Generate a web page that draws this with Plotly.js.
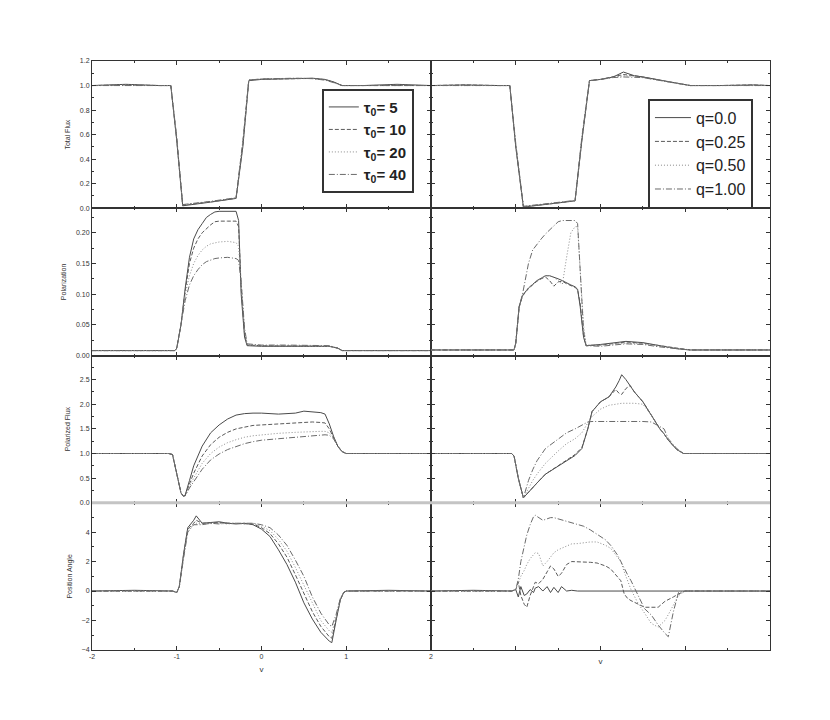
<!DOCTYPE html>
<html>
<head>
<meta charset="utf-8">
<script src="https://cdn.plot.ly/plotly-3.0.1.min.js"></script>
<style>html,body{margin:0;padding:0;background:#fff;}#chart{width:830px;height:720px;}</style>
</head>
<body>
<div id="chart"></div>
<script>
// ---------- DATA ----------
const tauNames = ['<b>τ<sub>0</sub>= 5</b>', '<b>τ<sub>0</sub>= 10</b>', '<b>τ<sub>0</sub>= 20</b>', '<b>τ<sub>0</sub>= 40</b>'];
const qNames = ['q=0.0', 'q=0.25', 'q=0.50', 'q=1.00'];
const xTickLabels = ['-2', '-1', '0', '1', '2'];
const yTitles = ['Total Flux', 'Polarization', 'Polarized Flux', 'Position Angle'];

// Total flux, left (tau)
const xTotL = [-2,-1.6,-1.2,-1.07,-1.0,-0.93,-0.6,-0.3,-0.22,-0.15,0,0.2,0.4,0.6,0.75,0.85,0.95,1.2,1.6,2];
const totL_t5  = [1,1.01,1,1,0.55,0.02,0.05,0.08,0.5,1.04,1.05,1.055,1.06,1.06,1.05,1.03,1.0,1.0,1.01,1.0];
const totL_t10 = [1,1.005,1,1,0.56,0.025,0.052,0.082,0.52,1.045,1.052,1.056,1.058,1.058,1.048,1.028,1.0,1.0,1.005,1.0];
const totL_t20 = [1,1.005,1,1,0.57,0.028,0.054,0.084,0.53,1.045,1.053,1.057,1.059,1.057,1.046,1.026,1.0,1.0,1.005,1.0];
const totL_t40 = [1,1.0,1,1,0.58,0.03,0.056,0.086,0.55,1.045,1.054,1.058,1.06,1.056,1.044,1.024,1.0,1.0,1.0,1.0];

// Total flux, right (q)
const xTotR = [-2,-1.6,-1.2,-1.07,-1.0,-0.91,-0.6,-0.3,-0.22,-0.13,0,0.15,0.27,0.4,0.5,0.8,1.06,1.4,1.8,2];
const totR_q0   = [1,1.005,1,1,0.5,0.01,0.035,0.06,0.55,1.04,1.05,1.07,1.11,1.08,1.07,1.03,1.0,1.0,1.005,1];
const totR_q25  = [1,1.005,1,1,0.51,0.012,0.036,0.061,0.56,1.04,1.05,1.07,1.09,1.08,1.07,1.03,1.0,1.0,1.005,1];
const totR_q50  = [1,1.0,1,1,0.52,0.014,0.038,0.062,0.57,1.04,1.05,1.07,1.08,1.075,1.065,1.03,1.0,1.0,1.0,1];
const totR_q100 = [1,1.0,1,1,0.53,0.016,0.04,0.064,0.58,1.04,1.05,1.065,1.07,1.07,1.065,1.03,1.0,1.0,1.0,1];

// Polarization, left
const xPolL = [-2,-1.5,-1.02,-1.0,-0.95,-0.9,-0.85,-0.8,-0.75,-0.7,-0.65,-0.6,-0.55,-0.5,-0.4,-0.3,-0.27,-0.24,-0.2,-0.17,0,0.3,0.6,0.8,0.9,0.95,1.2,1.6,2];
const polL_t5  = [0.008,0.008,0.008,0.012,0.05,0.11,0.16,0.19,0.205,0.215,0.225,0.23,0.234,0.235,0.235,0.235,0.22,0.10,0.03,0.016,0.015,0.015,0.015,0.015,0.012,0.008,0.008,0.008,0.008];
const polL_t10 = [0.008,0.008,0.008,0.012,0.05,0.105,0.15,0.175,0.19,0.20,0.207,0.213,0.218,0.219,0.219,0.219,0.21,0.11,0.035,0.017,0.016,0.016,0.016,0.015,0.012,0.008,0.008,0.008,0.008];
const polL_t20 = [0.008,0.008,0.008,0.012,0.05,0.10,0.13,0.15,0.163,0.172,0.178,0.182,0.184,0.185,0.186,0.184,0.178,0.12,0.04,0.018,0.016,0.016,0.016,0.015,0.012,0.008,0.008,0.008,0.008];
const polL_t40 = [0.008,0.008,0.008,0.012,0.05,0.09,0.115,0.13,0.14,0.148,0.153,0.156,0.158,0.159,0.16,0.158,0.155,0.12,0.045,0.019,0.017,0.017,0.017,0.016,0.012,0.008,0.008,0.008,0.008];

// Polarization, right
const xPolR = [-2,-1.5,-1.02,-1.0,-0.96,-0.92,-0.85,-0.8,-0.75,-0.7,-0.65,-0.6,-0.55,-0.5,-0.45,-0.4,-0.35,-0.3,-0.27,-0.24,-0.2,-0.17,0,0.3,0.5,0.7,0.9,1.06,1.5,2];
const polR_q0   = [0.009,0.009,0.009,0.02,0.08,0.098,0.11,0.116,0.122,0.126,0.13,0.13,0.128,0.125,0.122,0.118,0.115,0.112,0.108,0.08,0.03,0.016,0.018,0.023,0.021,0.016,0.011,0.009,0.009,0.009];
const polR_q25  = [0.009,0.009,0.009,0.02,0.078,0.097,0.109,0.115,0.121,0.125,0.128,0.122,0.113,0.12,0.121,0.117,0.114,0.111,0.107,0.085,0.032,0.016,0.017,0.022,0.02,0.016,0.011,0.009,0.009,0.009];
const polR_q50  = [0.009,0.009,0.009,0.02,0.079,0.098,0.11,0.116,0.122,0.126,0.13,0.13,0.127,0.122,0.116,0.16,0.20,0.21,0.21,0.14,0.05,0.017,0.017,0.02,0.019,0.015,0.011,0.009,0.009,0.009];
const polR_q100 = [0.009,0.009,0.009,0.02,0.08,0.10,0.15,0.172,0.182,0.19,0.198,0.205,0.212,0.218,0.22,0.22,0.22,0.22,0.215,0.13,0.04,0.016,0.015,0.019,0.018,0.014,0.011,0.009,0.009,0.009];

// Polarized flux, left
const xPfL = [-2,-1.5,-1.1,-1.05,-1.0,-0.95,-0.92,-0.9,-0.85,-0.8,-0.7,-0.6,-0.5,-0.4,-0.3,-0.2,-0.1,0,0.2,0.4,0.5,0.6,0.7,0.75,0.8,0.85,0.9,0.95,1.0,1.05,1.5,2];
const pfL_t5  = [1,1,1,0.98,0.6,0.2,0.13,0.16,0.45,0.75,1.15,1.42,1.58,1.7,1.78,1.81,1.82,1.82,1.80,1.82,1.86,1.84,1.83,1.8,1.6,1.35,1.15,1.04,1.0,1.0,1,1];
const pfL_t10 = [1,1,1,0.98,0.6,0.2,0.13,0.15,0.38,0.6,0.95,1.18,1.33,1.43,1.5,1.54,1.57,1.58,1.6,1.62,1.63,1.64,1.63,1.62,1.5,1.33,1.15,1.04,1.0,1.0,1,1];
const pfL_t20 = [1,1,1,0.98,0.6,0.2,0.13,0.14,0.33,0.5,0.8,1.0,1.13,1.22,1.28,1.33,1.36,1.38,1.41,1.43,1.44,1.45,1.45,1.45,1.42,1.32,1.15,1.04,1.0,1.0,1,1];
const pfL_t40 = [1,1,1,0.98,0.6,0.2,0.13,0.14,0.3,0.43,0.68,0.87,0.99,1.08,1.14,1.2,1.24,1.27,1.3,1.33,1.35,1.37,1.38,1.38,1.37,1.3,1.14,1.04,1.0,1.0,1,1];

// Polarized flux, right
const xPfR = [-2,-1.5,-1.05,-1.02,-0.97,-0.91,-0.85,-0.8,-0.75,-0.65,-0.5,-0.4,-0.3,-0.22,-0.15,-0.1,0,0.1,0.18,0.22,0.25,0.3,0.35,0.4,0.5,0.6,0.7,0.75,0.8,0.9,0.98,1.05,1.5,2];
const pfR_q0   = [1,1,1,0.95,0.5,0.1,0.22,0.31,0.4,0.58,0.75,0.85,0.96,1.1,1.5,1.85,2.05,2.15,2.35,2.48,2.6,2.5,2.38,2.25,2.05,1.78,1.5,1.4,1.27,1.08,1.0,1,1,1];
const pfR_q25  = [1,1,1,0.95,0.5,0.1,0.22,0.31,0.4,0.58,0.75,0.86,0.98,1.12,1.5,1.85,2.05,2.15,2.3,2.22,2.2,2.32,2.38,2.25,2.05,1.78,1.5,1.4,1.27,1.08,1.0,1,1,1];
const pfR_q50  = [1,1,1,0.95,0.5,0.1,0.3,0.45,0.58,0.8,1.05,1.2,1.3,1.42,1.62,1.75,1.9,1.98,2.0,2.02,2.02,2.02,2.02,2.02,2.0,1.78,1.5,1.4,1.27,1.08,1.0,1,1,1];
const pfR_q100 = [1,1,1,0.95,0.5,0.1,0.45,0.67,0.85,1.1,1.3,1.42,1.5,1.58,1.64,1.65,1.65,1.65,1.66,1.65,1.66,1.65,1.65,1.65,1.65,1.64,1.55,1.5,1.3,1.1,1.0,1,1,1];

// Position angle, left
const xPaL = [-2,-1.5,-1.05,-1.0,-0.97,-0.92,-0.87,-0.8,-0.77,-0.7,-0.6,-0.5,-0.4,-0.3,-0.2,-0.1,0,0.1,0.2,0.3,0.4,0.5,0.6,0.7,0.8,0.83,0.88,0.93,0.97,1.0,1.5,2];
const paL_t5  = [0,0.05,0,-0.1,0.3,2.5,4.3,4.8,5.1,4.6,4.65,4.7,4.6,4.55,4.6,4.5,4.2,3.7,2.8,1.8,0.6,-0.8,-1.9,-2.8,-3.4,-3.5,-2.0,-0.6,-0.1,0,0.05,0];
const paL_t10 = [0,0,0,-0.1,0.3,2.4,4.2,4.6,4.8,4.6,4.65,4.65,4.6,4.6,4.6,4.55,4.3,3.9,3.2,2.3,1.1,-0.2,-1.4,-2.4,-3.1,-3.2,-1.9,-0.6,-0.1,0,0,0];
const paL_t20 = [0,0,0,-0.1,0.3,2.3,4.1,4.5,4.6,4.55,4.6,4.6,4.55,4.6,4.55,4.6,4.4,4.1,3.5,2.7,1.6,0.4,-0.9,-2.0,-2.7,-2.8,-1.8,-0.5,-0.1,0,0,0];
const paL_t40 = [0,0,0,-0.1,0.3,2.2,4.0,4.5,4.5,4.5,4.6,4.55,4.6,4.6,4.6,4.6,4.5,4.3,3.8,3.1,2.1,1.0,-0.4,-1.5,-2.3,-2.4,-1.6,-0.5,-0.1,0,0,0];

// Position angle, right
const xPaR = [-2,-1.5,-1.05,-1.0,-0.97,-0.94,-0.9,-0.87,-0.83,-0.79,-0.77,-0.73,-0.68,-0.63,-0.59,-0.55,-0.5,-0.46,-0.4,-0.34,-0.27,-0.2,-0.12,-0.04,0.06,0.12,0.2,0.24,0.28,0.32,0.36,0.44,0.52,0.6,0.68,0.76,0.8,0.86,0.92,1.0,1.5,2];
const paR_q0   = [0,0.05,0,0.1,-0.4,0.3,-0.3,-0.2,0.1,-0.1,0.2,0.3,0.0,0.3,-0.1,0.25,-0.1,0.3,0.0,0.05,0,0,0.05,0,0,0.05,0,0,0,0,0.05,0,0,0,0.05,0,0,0,0,0,0.05,0];
const paR_q25  = [0,0,0,0.1,0.6,-0.3,-0.9,-1.1,-0.3,0.3,0.6,0.5,0.8,1.3,1.7,1.5,1.0,1.2,1.8,2.0,2.0,2.0,1.95,1.9,1.7,1.5,1.0,0.7,-0.2,-0.5,-0.65,-0.9,-1.1,-1.1,-1.1,-0.7,-0.6,-0.4,-0.2,0,0,0];
const paR_q50  = [0,0,0,0.1,0.5,1.0,1.4,1.8,2.2,2.5,2.6,2.55,1.7,2.0,2.3,2.6,2.8,2.9,3.05,3.2,3.22,3.28,3.33,3.33,3.1,2.9,2.3,2.0,1.3,0.7,0.1,-0.8,-1.5,-2.2,-2.45,-2.0,-1.6,-0.9,-0.3,0,0,0];
const paR_q100 = [0,0,0,0.1,0.8,2.0,3.0,3.8,4.5,5.05,5.14,5.0,4.8,4.9,4.98,4.98,4.9,4.8,4.7,4.6,4.5,4.4,4.15,3.85,3.47,3.1,2.45,2.0,1.5,1.1,0.7,-0.27,-1.2,-1.63,-2.3,-2.87,-3.1,-1.4,-0.1,0,0,0];

// ---------- BUILD ----------
const panels = [
  {x: xTotL, ys: [totL_t5, totL_t10, totL_t20, totL_t40], names: tauNames, legend: 'legend'},
  {x: xTotR, ys: [totR_q0, totR_q25, totR_q50, totR_q100], names: qNames, legend: 'legend2'},
  {x: xPolL, ys: [polL_t5, polL_t10, polL_t20, polL_t40], names: tauNames},
  {x: xPolR, ys: [polR_q0, polR_q25, polR_q50, polR_q100], names: qNames},
  {x: xPfL, ys: [pfL_t5, pfL_t10, pfL_t20, pfL_t40], names: tauNames},
  {x: xPfR, ys: [pfR_q0, pfR_q25, pfR_q50, pfR_q100], names: qNames},
  {x: xPaL, ys: [paL_t5, paL_t10, paL_t20, paL_t40], names: tauNames},
  {x: xPaR, ys: [paR_q0, paR_q25, paR_q50, paR_q100], names: qNames}
];
const dashes = ['solid', '4px,2px', '1px,2px', '6px,2px,1px,2px'];
const colors = ['#4a4a4a', '#5a5a5a', '#8a8a8a', '#6a6a6a'];

const yRanges = [[0, 1.2001], [0, 0.24], [0, 2.99], [-4, 5.99]];
const yDticks = [0.2, 0.05, 0.5, 2];
const yMinor = [0.1, 0.025, 0.25, 1];
const yFormats = ['.1f', '.2f', '.1f', 'd'];

const traces = [];
const layout = {
  width: 830, height: 720,
  margin: {l: 92, r: 60, t: 61, b: 70},
  paper_bgcolor: '#fff', plot_bgcolor: '#fff',
  font: {family: 'Liberation Sans, Arial, sans-serif', color: '#333', size: 7},
  showlegend: true,
  legend: {
    x: 0.339, y: 0.953, xanchor: 'left', yanchor: 'top',
    bgcolor: '#fff', bordercolor: '#333', borderwidth: 2,
    font: {family: 'Liberation Sans, Arial, sans-serif', size: 15, color: '#222'},
    itemwidth: 30, tracegroupgap: 0
  },
  legend2: {
    x: 0.82, y: 0.936, xanchor: 'left', yanchor: 'top',
    bgcolor: '#fff', bordercolor: '#333', borderwidth: 2,
    font: {family: 'Liberation Sans, Arial, sans-serif', size: 16, color: '#222'},
    itemwidth: 36, tracegroupgap: 0
  },
  shapes: [
    {type: 'line', xref: 'paper', yref: 'paper', x0: 0, x1: 1, y0: 0.25, y1: 0.25, layer: 'above',
     line: {color: '#c4c4c4', width: 3}}
  ]
};

panels.forEach((p, i) => {
  const row = Math.floor(i / 2), col = i % 2;
  const ax = i === 0 ? '' : String(i + 1);
  p.ys.forEach((y, k) => {
    const t = {
      type: 'scatter', mode: 'lines', x: p.x, y: y, name: p.names[k],
      xaxis: 'x' + ax, yaxis: 'y' + ax,
      line: {color: colors[k], width: 1, dash: dashes[k]},
      showlegend: !!p.legend, hoverinfo: 'skip'
    };
    if (p.legend) t.legend = p.legend;
    traces.push(t);
  });
  const xDom = col === 0 ? [0, 0.5] : [0.5, 1];
  const yDom = [[0.75, 1], [0.5, 0.75], [0.25, 0.5], [0, 0.25]][row];
  const common = {
    showline: true, linecolor: '#333', linewidth: 1, mirror: 'ticks',
    ticks: 'inside', ticklen: 4, tickcolor: '#333', tickwidth: 1,
    showgrid: false, zeroline: false, fixedrange: true,
    tickfont: {family: 'Liberation Sans, Arial, sans-serif', size: 7, color: '#333'}
  };
  layout['xaxis' + ax] = Object.assign({}, common, {
    domain: xDom, anchor: 'y' + ax, range: [-2, 2],
    tick0: 0, dtick: 1,
    minor: {dtick: 0.5, ticks: 'inside', ticklen: 2, tickcolor: '#333'},
    tickmode: row === 3 && col === 0 ? 'array' : 'linear',
    tickvals: row === 3 && col === 0 ? [-2, -1, 0, 1, 2] : undefined,
    ticktext: row === 3 && col === 0 ? xTickLabels : undefined,
    showticklabels: row === 3 && col === 0,
    title: row === 3 ? {text: 'v', font: {size: 8, color: '#333'}, standoff: col === 0 ? 6 : 8} : undefined
  });
  layout['yaxis' + ax] = Object.assign({}, common, {
    domain: yDom, anchor: 'x' + ax, range: yRanges[row],
    tick0: 0, dtick: yDticks[row], tickformat: yFormats[row],
    minor: {dtick: yMinor[row], ticks: 'inside', ticklen: 2, tickcolor: '#333'},
    showticklabels: col === 0,
    title: col === 0 ? {text: yTitles[row], font: {size: 7, color: '#333'}, standoff: 8} : undefined
  });
});

Plotly.newPlot('chart', traces, layout, {displayModeBar: false, staticPlot: true});
</script>
</body>
</html>
